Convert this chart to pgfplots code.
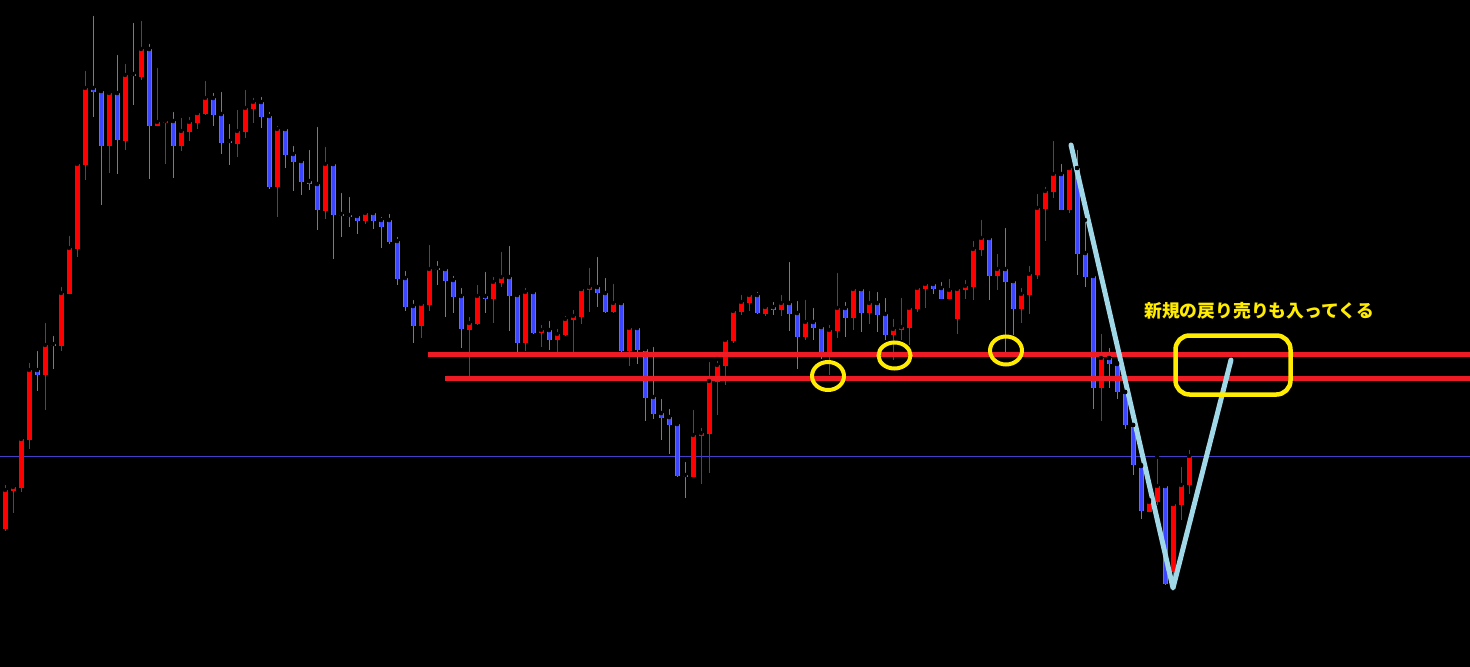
\documentclass[border=0pt]{standalone}
\usepackage{pgfplots}
\usepackage{pgfplotstable}
\pgfplotsset{compat=1.18}
\usepackage{fontspec}
\newfontfamily\cjk{Noto Sans CJK JP}
\definecolor{cred}{RGB}{255,0,0}
\definecolor{cwick}{RGB}{30,144,255}
\definecolor{cbody}{RGB}{60,70,255}
\definecolor{lred}{RGB}{237,28,36}
\definecolor{lblue}{RGB}{160,216,232}
\definecolor{hline}{RGB}{72,61,200}
\definecolor{yel}{RGB}{255,236,0}

% columns: x (px), high, low, body top, body bottom (pixel rows, top = 0)
\pgfplotstableread{
x hi lo top bot
5 483 531 490 529
13 483 513 487 491
21 435 492 439 488
29 361 449 370 440
45 321 410 345 375
61 285 351 293 346
69 234 294 248 294
77 161 257 164 249
85 69 180 88 165
109 89 173 93 146
125 62 150 75 141
141 19 80 49 77
157 66 126 122 126
165 120 164 121 123
181 116 151 131 146
189 115 141 122 132
197 113 129 113 123
205 79 115 98 114
237 108 157 131 144
245 88 138 108 132
253 96 123 102 109
277 124 217 129 187
325 145 219 164 211
365 212 224 213 221
421 300 338 304 326
429 243 311 269 305
469 315 376 323 330
477 283 325 296 324
493 275 323 282 299
501 250 287 277 283
525 286 351 292 343
541 323 347 330 333
557 327 352 334 340
565 314 336 319 335
573 308 352 316 320
581 289 324 289 317
589 266 312 287 290
613 282 313 303 312
629 325 366 328 351
693 408 477 435 477
701 426 484 433 436
709 360 473 381 434
717 359 415 365 382
725 339 385 340 366
733 310 343 311 341
741 293 315 302 312
749 292 311 295 303
765 305 316 307 314
781 293 316 303 310
805 298 340 322 337
829 323 375 330 352
837 271 338 308 331
853 286 330 289 318
869 289 324 303 313
893 317 360 329 335
901 296 340 327 330
909 305 345 308 328
917 284 312 288 309
925 283 308 284 289
949 277 299 290 299
957 288 334 289 319
965 278 299 286 290
973 239 300 249 287
981 218 256 238 250
997 252 290 269 276
1021 286 323 294 309
1029 264 314 274 295
1037 192 279 208 275
1045 185 241 191 209
1053 139 198 174 192
1069 168 213 168 210
1101 332 421 358 388
1149 500 512 502 512
1157 457 505 486 502
1173 504 577 504 572
1181 465 520 485 505
1189 448 494 456 485
}\redtab

\pgfplotstableread{
x hi lo top bot
37 349 391 370 375
53 334 369 344 346
93 14 117 88 92
101 90 205 91 146
117 53 174 93 140
133 21 105 74 76
149 42 179 49 126
173 110 178 121 146
213 91 126 98 115
221 90 154 114 143
229 122 165 141 143
261 95 128 102 117
269 110 189 116 187
285 126 168 129 155
293 144 191 154 162
301 158 195 161 182
309 148 190 181 184
317 125 230 184 210
333 164 259 164 215
341 191 237 214 216
349 195 227 215 217
357 215 234 216 221
373 209 229 213 221
381 215 248 220 227
389 212 244 220 242
397 235 285 241 279
405 269 311 278 307
413 298 343 306 326
437 259 285 268 270
445 268 317 269 281
453 274 313 280 297
461 286 348 296 329
485 270 313 296 299
509 244 331 277 296
517 292 352 295 343
533 292 334 292 333
549 319 350 330 340
597 255 307 287 293
605 276 313 293 312
621 302 352 303 351
637 324 364 328 350
645 349 421 349 398
653 345 419 397 414
661 397 440 413 418
669 407 454 417 425
677 423 477 424 476
685 460 498 475 477
757 290 314 295 313
773 300 315 307 310
789 260 331 303 314
797 299 369 313 337
813 306 340 322 328
821 323 359 327 352
845 300 337 308 318
861 289 332 289 313
877 290 332 303 315
885 296 340 314 335
933 280 294 284 289
941 280 299 288 299
989 236 300 238 276
1005 226 352 269 282
1013 281 335 281 309
1061 162 210 174 210
1077 148 275 168 254
1085 220 287 253 277
1093 272 409 276 388
1109 346 388 358 364
1117 363 399 364 392
1125 392 429 392 425
1133 425 475 425 465
1141 465 519 466 511
1165 484 585 486 584
}\bluetab

\begin{document}
\begin{tikzpicture}
\begin{axis}[
  scale only axis, width=1470bp, height=667bp,
  xmin=0, xmax=1470, ymin=0, ymax=667, y dir=reverse,
  axis lines=none, ticks=none,
  axis background/.style={fill=black},
  clip=true,
]
\addplot[hline, line width=1bp] coordinates {(0,456) (1470,456)};

% wicks
\addplot[only marks, mark=none, error bars/.cd, y dir=both, y explicit, error mark=none,
  error bar style={draw=cred, solid, line width=1bp}]
  table[x=x, y=hi, y error plus expr=\thisrow{lo}-\thisrow{hi}, y error minus expr=0]{\redtab};
\addplot[only marks, mark=none, error bars/.cd, y dir=both, y explicit, error mark=none,
  error bar style={draw=cwick, solid, line width=1bp}]
  table[x=x, y=hi, y error plus expr=\thisrow{lo}-\thisrow{hi}, y error minus expr=0]{\bluetab};
% bodies
\addplot[only marks, mark=none, error bars/.cd, y dir=both, y explicit, error mark=none,
  error bar style={draw=cred, solid, line width=5bp}]
  table[x=x, y=top, y error plus expr=\thisrow{bot}-\thisrow{top}, y error minus expr=0]{\redtab};
\addplot[only marks, mark=none, error bars/.cd, y dir=both, y explicit, error mark=none,
  error bar style={draw=cwick, solid, line width=5bp}]
  table[x=x, y=top, y error plus expr=\thisrow{bot}-\thisrow{top}, y error minus expr=0]{\bluetab};
\addplot[only marks, mark=none, error bars/.cd, y dir=both, y explicit, error mark=none,
  error bar style={draw=cbody, solid, line width=3bp}]
  table[x=x, y=top, y error plus expr=\thisrow{bot}-\thisrow{top}, y error minus expr=0]{\bluetab};

% support lines
\addplot[lred, line width=5bp] coordinates {(428,354) (1470,354)};
\addplot[lred, line width=5bp] coordinates {(445,378) (1470,378)};
% V path
\addplot[lblue, line width=5bp, line join=round, line cap=round] coordinates {(1071,145) (1173,588) (1231,360)};

% annotations
\draw[yel, line width=4bp] (axis cs:828,376) ellipse [x radius=16, y radius=14];
\draw[yel, line width=4bp] (axis cs:894.5,355.5) ellipse [x radius=16, y radius=13];
\draw[yel, line width=4bp] (axis cs:1006,350.5) ellipse [x radius=16, y radius=14];
\draw[yel, line width=4.5bp, rounded corners=14bp] (axis cs:1175.5,335.5) rectangle (axis cs:1290.5,394.5);
\node[text=yel, font=\cjk\bfseries\fontsize{17.8bp}{20bp}\selectfont, inner sep=0pt] at (axis cs:1259,311) {新規の戻り売りも入ってくる};
\end{axis}
\end{tikzpicture}
\end{document}
